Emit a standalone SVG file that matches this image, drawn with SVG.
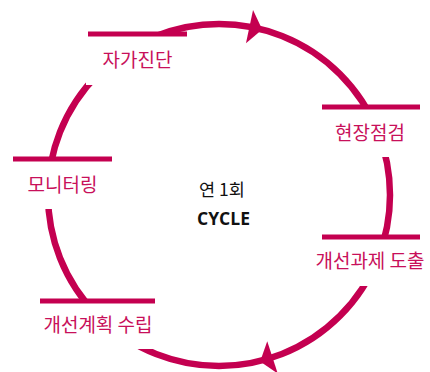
<svg xmlns="http://www.w3.org/2000/svg" width="430" height="372" viewBox="0 0 430 372">
<style>
.ring{fill:none;stroke:#c40050;stroke-width:6.5}
.arrow{fill:#c40050}
.box{fill:#ffffff;stroke:none}
.bar{stroke:#c40050;stroke-width:5}
.lbl{font-family:"Noto Sans CJK KR","Noto Sans",sans-serif;font-size:19px;fill:#c8105a;text-anchor:middle}
.ctr{font-family:"Noto Sans CJK KR","Noto Sans",sans-serif;font-size:17.5px;fill:#111111;text-anchor:middle}
.ctrb{font-family:"Open Sans","Liberation Sans",sans-serif;font-size:17.5px;font-weight:bold;fill:#111111;text-anchor:middle}
</style>
<defs>
<path id="head" d="M13,0 L0,-17 L0,17 Z"/>
</defs>
<rect width="430" height="372" fill="#ffffff"/>
<g id="connectors">
<circle class="ring" cx="219" cy="195" r="171"/>
<use href="#head" class="arrow" transform="translate(249.5,26.7) rotate(12)"/>
<use href="#head" class="arrow" transform="translate(272.5,357.4) rotate(162)"/>
</g>
<g id="node-self-diagnosis">
<rect class="box" x="86" y="36" width="103" height="49"/>
<line class="bar" x1="88" y1="34" x2="187" y2="34"/>
<text class="lbl" x="137.5" y="67">자가진단</text>
</g>
<g id="node-site-inspection">
<rect class="box" x="320" y="109" width="102" height="48"/>
<line class="bar" x1="322" y1="107" x2="420" y2="107"/>
<text class="lbl" x="370" y="140">현장점검</text>
</g>
<g id="node-derive-tasks">
<rect class="box" x="320" y="239" width="102" height="47"/>
<line class="bar" x1="322" y1="237" x2="420" y2="237"/>
<text class="lbl" x="370" y="268">개선과제 도출</text>
</g>
<g id="node-improvement-plan">
<rect class="box" x="38" y="303" width="119" height="46"/>
<line class="bar" x1="40" y1="301" x2="155" y2="301"/>
<text class="lbl" x="98" y="332">개선계획 수립</text>
</g>
<g id="node-monitoring">
<rect class="box" x="11" y="161" width="103" height="48"/>
<line class="bar" x1="13" y1="159" x2="112" y2="159"/>
<text class="lbl" x="62.5" y="192">모니터링</text>
</g>
<g id="center">
<text class="ctr" x="222" y="196">연 1회</text>
<text class="ctrb" x="223.5" y="225">CYCLE</text>
</g>
</svg>
